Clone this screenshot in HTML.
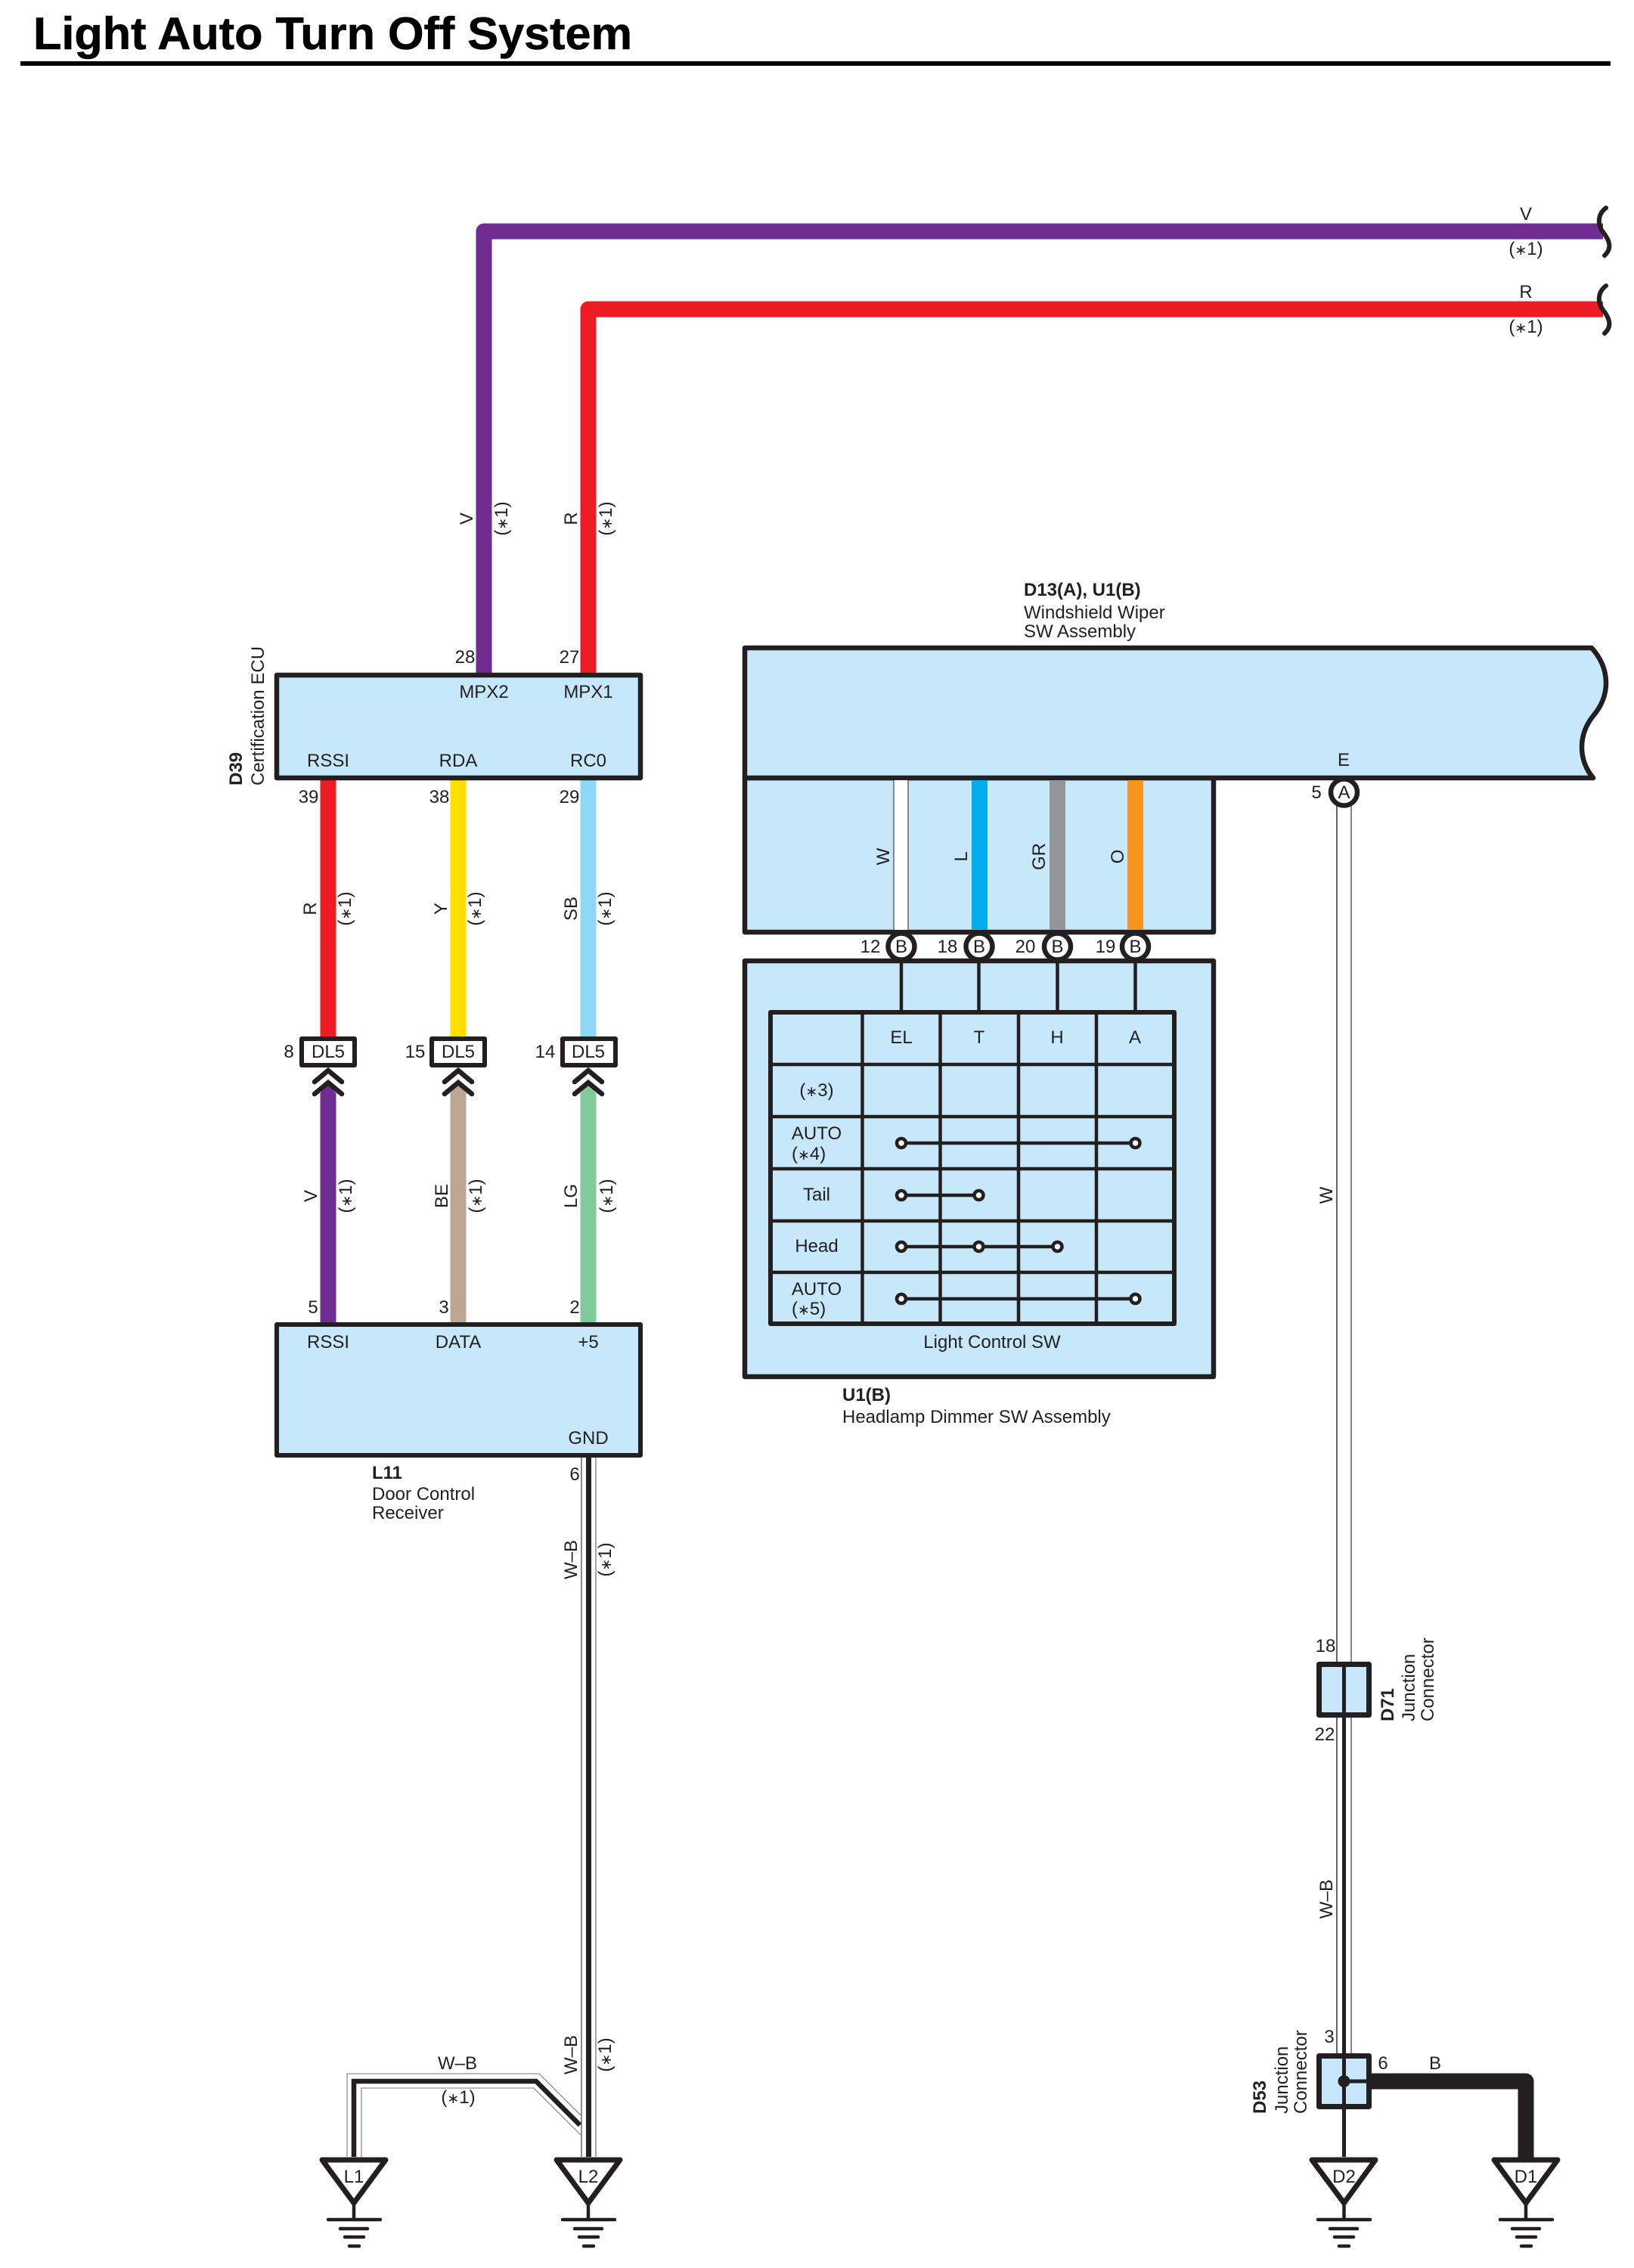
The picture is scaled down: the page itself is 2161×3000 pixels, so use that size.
<!DOCTYPE html>
<html><head><meta charset="utf-8"><title>Light Auto Turn Off System</title>
<style>html,body{margin:0;padding:0;background:#fff}svg{display:block}
text{font-family:"Liberation Sans",Arial,sans-serif;font-size:24px;fill:#231f20}
.m{text-anchor:middle}.b{font-weight:bold}.a{font-size:19px}</style></head><body>
<svg xmlns="http://www.w3.org/2000/svg" width="2161" height="3000" viewBox="0 0 2161 3000">
<rect width="2161" height="3000" fill="#fff"/>
<text x="44" y="65" class="b" textLength="792" lengthAdjust="spacingAndGlyphs" style="font-size:60px;fill:#000;stroke:#000;stroke-width:.6px">Light Auto Turn Off System</text>
<rect x="27" y="81" width="2103" height="6" fill="#000"/>

<!-- top wires -->
<path d="M640 895V306H2120" fill="none" stroke="#6f2c91" stroke-width="21" stroke-linejoin="round"/>
<path d="M778 895V409H2120" fill="none" stroke="#ed1c24" stroke-width="21" stroke-linejoin="round"/>
<path d="M2124 275C2112 284 2113 298 2120 307C2128 317 2133 328 2122 338" fill="none" stroke="#231f20" stroke-width="6" stroke-linecap="round"/>
<path d="M2124 378C2112 387 2113 401 2120 410C2128 420 2133 431 2122 441" fill="none" stroke="#231f20" stroke-width="6" stroke-linecap="round"/>
<text x="2018" y="291" class="m">V</text><text x="2018" y="337" class="m">(<tspan class="a">∗</tspan>1)</text>
<text x="2018" y="394" class="m">R</text><text x="2018" y="440" class="m">(<tspan class="a">∗</tspan>1)</text>
<text transform="translate(625 686) rotate(-90)" class="m">V</text>
<text transform="translate(671 686) rotate(-90)" class="m">(<tspan class="a">∗</tspan>1)</text>
<text transform="translate(763 686) rotate(-90)" class="m">R</text>
<text transform="translate(809 686) rotate(-90)" class="m">(<tspan class="a">∗</tspan>1)</text>

<!-- left column wires -->
<rect x="423.5" y="1030" width="21" height="345" fill="#ed1c24"/>
<rect x="595.5" y="1030" width="21" height="345" fill="#ffde00"/>
<rect x="767.5" y="1030" width="21" height="345" fill="#8dd7f7"/>
<polygon points="423.5,1446 434,1433 444.5,1446 444.5,1752 423.5,1752" fill="#6f2c91"/>
<polygon points="595.5,1446 606,1433 616.5,1446 616.5,1752 595.5,1752" fill="#bba793"/>
<polygon points="767.5,1446 778,1433 788.5,1446 788.5,1752 767.5,1752" fill="#82c99c"/>

<!-- D39 -->
<rect x="366" y="893" width="481" height="136" fill="#c7e8fa" stroke="#231f20" stroke-width="6.5" stroke-linejoin="round"/>
<text x="615" y="877" class="m">28</text><text x="753" y="877" class="m">27</text>
<text x="640" y="923" class="m">MPX2</text><text x="778" y="923" class="m">MPX1</text>
<text x="434" y="1014" class="m">RSSI</text><text x="606" y="1014" class="m">RDA</text><text x="778" y="1014" class="m">RC0</text>
<text x="408" y="1062" class="m">39</text><text x="581" y="1062" class="m">38</text><text x="753" y="1062" class="m">29</text>
<text transform="translate(320 1039) rotate(-90)" class="b">D39</text>
<text transform="translate(349 1039) rotate(-90)">Certification ECU</text>
<text transform="translate(418 1202) rotate(-90)" class="m">R</text>
<text transform="translate(464 1202) rotate(-90)" class="m">(<tspan class="a">∗</tspan>1)</text>
<text transform="translate(591 1202) rotate(-90)" class="m">Y</text>
<text transform="translate(636 1202) rotate(-90)" class="m">(<tspan class="a">∗</tspan>1)</text>
<text transform="translate(763 1202) rotate(-90)" class="m">SB</text>
<text transform="translate(808 1202) rotate(-90)" class="m">(<tspan class="a">∗</tspan>1)</text>

<!-- DL5 connectors -->
<g fill="#fff" stroke="#231f20" stroke-width="6" stroke-linejoin="round">
<rect x="399" y="1374" width="70" height="35"/><rect x="571" y="1374" width="70" height="35"/><rect x="744" y="1374" width="70" height="35"/>
</g>
<text x="434" y="1399" class="m">DL5</text><text x="606" y="1399" class="m">DL5</text><text x="778" y="1399" class="m">DL5</text>
<text x="382" y="1399" class="m">8</text><text x="549" y="1399" class="m">15</text><text x="721" y="1399" class="m">14</text>
<g fill="none" stroke="#231f20" stroke-width="6.5" stroke-linecap="round" stroke-linejoin="miter">
<path d="M416 1431L434 1416L452 1431M416 1447L434 1432L452 1447"/>
<path d="M588 1431L606 1416L624 1431M588 1447L606 1432L624 1447"/>
<path d="M760 1431L778 1416L796 1431M760 1447L778 1432L796 1447"/>
</g>
<text transform="translate(419 1582) rotate(-90)" class="m">V</text>
<text transform="translate(465 1582) rotate(-90)" class="m">(<tspan class="a">∗</tspan>1)</text>
<text transform="translate(592 1582) rotate(-90)" class="m">BE</text>
<text transform="translate(637 1582) rotate(-90)" class="m">(<tspan class="a">∗</tspan>1)</text>
<text transform="translate(763 1582) rotate(-90)" class="m">LG</text>
<text transform="translate(810 1582) rotate(-90)" class="m">(<tspan class="a">∗</tspan>1)</text>
<text x="414" y="1737" class="m">5</text><text x="587" y="1737" class="m">3</text><text x="760" y="1737" class="m">2</text>

<!-- L11 -->
<rect x="366" y="1752" width="481" height="173" fill="#c7e8fa" stroke="#231f20" stroke-width="6" stroke-linejoin="round"/>
<text x="434" y="1783" class="m">RSSI</text><text x="606" y="1783" class="m">DATA</text><text x="778" y="1783" class="m">+5</text>
<text x="778" y="1910" class="m">GND</text>
<text x="492" y="1956" class="b">L11</text><text x="492" y="1984">Door Control</text><text x="492" y="2009">Receiver</text>

<!-- L11 ground wires -->
<path d="M459 2853V2743H713L768 2798M478 2853V2762H706L768 2824" fill="none" stroke="#777" stroke-width="1.1"/>
<path d="M468 2853V2753H709L767 2811" fill="none" stroke="#231f20" stroke-width="6.5"/>
<rect x="769" y="1928" width="19" height="925" fill="#fff"/>
<path d="M769 1928V2853" stroke="#666" stroke-width="1.5"/><path d="M788 1928V2853" stroke="#888" stroke-width="1.5"/>
<path d="M778.5 1928V2853" stroke="#231f20" stroke-width="7"/>
<text x="760" y="1958" class="m">6</text>
<text transform="translate(763 2063) rotate(-90)" class="m">W–B</text>
<text transform="translate(808 2063) rotate(-90)" class="m">(<tspan class="a">∗</tspan>1)</text>
<text transform="translate(763 2718) rotate(-90)" class="m">W–B</text>
<text transform="translate(808 2718) rotate(-90)" class="m">(<tspan class="a">∗</tspan>1)</text>
<text x="605" y="2737" class="m">W–B</text><text x="606" y="2782" class="m">(<tspan class="a">∗</tspan>1)</text>

<!-- Big upper assembly -->
<text x="1354" y="788" class="b">D13(A), U1(B)</text><text x="1354" y="818">Windshield Wiper</text><text x="1354" y="843">SW Assembly</text>
<rect x="985" y="1029" width="620" height="204" fill="#c7e8fa" stroke="#231f20" stroke-width="6.5" stroke-linejoin="round"/>
<path d="M985 857H2105C2130 885 2130 920 2107 947C2087 972 2087 1005 2107 1029H985Z" fill="#c7e8fa" stroke="#231f20" stroke-width="6.5" stroke-linejoin="round"/>
<rect x="1182" y="1032" width="19" height="198" fill="#fff"/>
<path d="M1182 1032V1230M1201 1032V1230" stroke="#444" stroke-width="1.2"/>
<rect x="1285" y="1032" width="21" height="198" fill="#00aeef"/>
<rect x="1388" y="1032" width="21" height="198" fill="#939598"/>
<rect x="1491" y="1032" width="21" height="198" fill="#f7941d"/>
<text transform="translate(1176 1133) rotate(-90)" class="m">W</text>
<text transform="translate(1279 1133) rotate(-90)" class="m">L</text>
<text transform="translate(1382 1133) rotate(-90)" class="m">GR</text>
<text transform="translate(1486 1133) rotate(-90)" class="m">O</text>
<text x="1777" y="1013" class="m">E</text>

<!-- Lower switch box -->
<rect x="985" y="1271" width="620" height="550" fill="#c7e8fa" stroke="#231f20" stroke-width="6.5" stroke-linejoin="round"/>
<path d="M1192 1273V1336M1294.5 1273V1336M1398.5 1273V1336M1501.5 1273V1336" stroke="#231f20" stroke-width="4.5"/>
<rect x="1019" y="1339" width="534" height="412" fill="#c7e8fa" stroke="#231f20" stroke-width="6" stroke-linejoin="round"/>
<path d="M1140.5 1339V1751M1243.5 1339V1751M1347 1339V1751M1450 1339V1751" stroke="#231f20" stroke-width="4.5"/>
<path d="M1019 1408H1553M1019 1477H1553M1019 1546H1553M1019 1615H1553M1019 1683H1553" stroke="#231f20" stroke-width="4.5"/>
<text x="1192" y="1380" class="m">EL</text><text x="1295" y="1380" class="m">T</text><text x="1398" y="1380" class="m">H</text><text x="1501" y="1380" class="m">A</text>
<text x="1080" y="1450" class="m">(<tspan class="a">∗</tspan>3)</text>
<text x="1080" y="1507" class="m">AUTO</text><text x="1047" y="1534">(<tspan class="a">∗</tspan>4)</text>
<text x="1080" y="1588" class="m">Tail</text>
<text x="1080" y="1656" class="m">Head</text>
<text x="1080" y="1713" class="m">AUTO</text><text x="1047" y="1739">(<tspan class="a">∗</tspan>5)</text>
<path d="M1192 1512H1501.5M1192 1581H1294.5M1192 1649H1398.5M1192 1718H1501.5" stroke="#231f20" stroke-width="4.5"/>
<g fill="#fff" stroke="#231f20" stroke-width="4.5">
<circle cx="1192" cy="1512" r="6"/><circle cx="1501.5" cy="1512" r="6"/>
<circle cx="1192" cy="1581" r="6"/><circle cx="1294.5" cy="1581" r="6"/>
<circle cx="1192" cy="1649" r="6"/><circle cx="1294.5" cy="1649" r="6"/><circle cx="1398.5" cy="1649" r="6"/>
<circle cx="1192" cy="1718" r="6"/><circle cx="1501.5" cy="1718" r="6"/>
</g>
<text x="1312" y="1783" class="m">Light Control SW</text>
<text x="1114" y="1853" class="b">U1(B)</text><text x="1114" y="1882">Headlamp Dimmer SW Assembly</text>

<!-- connector circles -->
<g fill="#fff" stroke="#231f20" stroke-width="6.5">
<circle cx="1192" cy="1252" r="17.5"/><circle cx="1295" cy="1252" r="17.5"/><circle cx="1398.5" cy="1252" r="17.5"/><circle cx="1501.5" cy="1252" r="17.5"/>
</g>
<text x="1192" y="1260" class="m">B</text><text x="1295" y="1260" class="m">B</text><text x="1398.5" y="1260" class="m">B</text><text x="1501.5" y="1260" class="m">B</text>
<text x="1151" y="1260" class="m">12</text><text x="1253" y="1260" class="m">18</text><text x="1356" y="1260" class="m">20</text><text x="1462" y="1260" class="m">19</text>

<!-- right wire -->
<path d="M1768 1066V2716" stroke="#333" stroke-width="1.5"/><path d="M1787 1066V2716" stroke="#888" stroke-width="2"/>
<circle cx="1777.5" cy="1048" r="17.5" fill="#fff" stroke="#231f20" stroke-width="6.5"/>
<text x="1777.5" y="1056" class="m">A</text><text x="1741" y="1056" class="m">5</text>
<text transform="translate(1762 1581) rotate(-90)" class="m">W</text>
<path d="M1777.5 2272V2853" stroke="#231f20" stroke-width="5"/>
<text transform="translate(1762 2512) rotate(-90)" class="m">W–B</text>

<!-- D71 -->
<rect x="1744.5" y="2201.5" width="66" height="67" fill="#c7e8fa" stroke="#231f20" stroke-width="7" stroke-linejoin="round"/>
<path d="M1777.5 2201V2269" stroke="#231f20" stroke-width="5"/>
<text x="1753" y="2185" class="m">18</text><text x="1752" y="2302" class="m">22</text>
<text transform="translate(1843 2277) rotate(-90)" class="b">D71</text>
<text transform="translate(1871 2277) rotate(-90)">Junction</text>
<text transform="translate(1896 2277) rotate(-90)">Connector</text>

<!-- D53 -->
<path d="M1811 2753H2018V2856" fill="none" stroke="#231f20" stroke-width="21" stroke-linejoin="round"/>
<rect x="1744.5" y="2719.5" width="66" height="67" fill="#c7e8fa" stroke="#231f20" stroke-width="7" stroke-linejoin="round"/>
<path d="M1777.5 2719V2787M1777.5 2753H1811" stroke="#231f20" stroke-width="5"/>
<circle cx="1777.5" cy="2753" r="8" fill="#231f20"/>
<text x="1758" y="2702" class="m">3</text><text x="1829" y="2737" class="m">6</text><text x="1898" y="2737" class="m">B</text>
<text transform="translate(1674 2796) rotate(-90)" class="b">D53</text>
<text transform="translate(1703 2796) rotate(-90)">Junction</text>
<text transform="translate(1728 2796) rotate(-90)">Connector</text>

<!-- grounds -->
<g fill="#fff" stroke="#231f20" stroke-width="7" stroke-linejoin="round">
<polygon points="426,2857 510,2857 468,2914"/><polygon points="736,2857 820,2857 778,2914"/>
<polygon points="1735,2857 1819,2857 1777.5,2914"/><polygon points="1976,2857 2060,2857 2018,2914"/>
</g>
<g stroke="#231f20" stroke-linecap="round" fill="none">
<path d="M468 2916V2936M778 2916V2936M1777.5 2916V2936M2018 2916V2936" stroke-width="4.5"/>
<path d="M434 2936H503M450 2948H486M456 2959H481M462 2971H475M744 2936H813M760 2948H796M766 2959H791M772 2971H785M1743 2936H1812M1759 2948H1795M1765 2959H1790M1771 2971H1784M1984 2936H2053M2000 2948H2036M2006 2959H2031M2012 2971H2025" stroke-width="4.5"/>
</g>
<text x="468" y="2887" class="m">L1</text><text x="778" y="2887" class="m">L2</text>
<text x="1777.5" y="2887" class="m">D2</text><text x="2018" y="2887" class="m">D1</text>
</svg>
</body></html>
